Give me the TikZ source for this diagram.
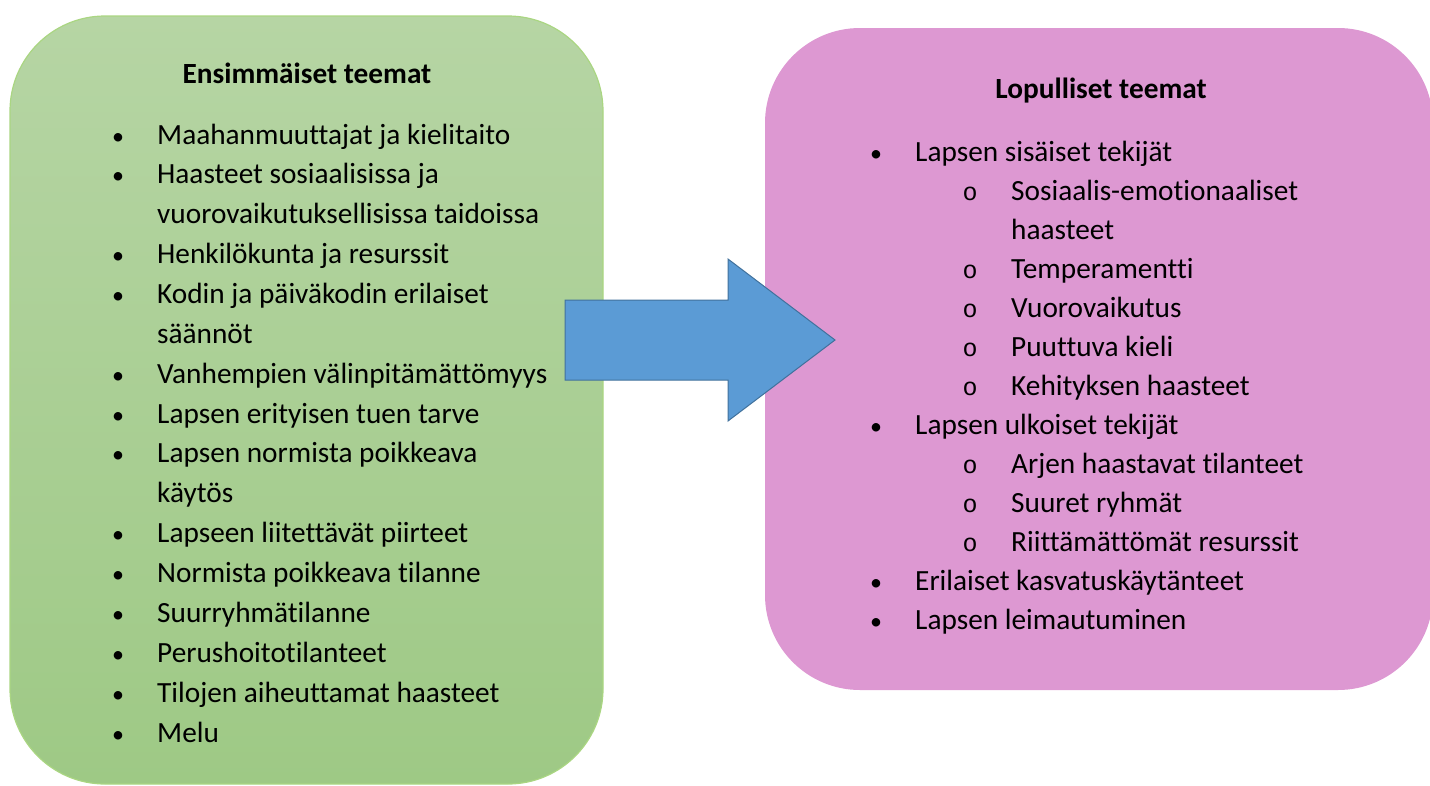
\documentclass[tikz,border=0pt]{standalone}
\usepackage{fontspec}
\setmainfont[RawFeature={-liga;-clig;-calt;-dlig}]{Carlito}
\newfontfamily\ringfont{Liberation Mono}
\usetikzlibrary{positioning}

\definecolor{leafgreen}{RGB}{182,213,164}
\definecolor{leafgreendark}{RGB}{158,201,133}
\definecolor{leafedge}{RGB}{170,214,130}
\definecolor{orchid}{RGB}{221,152,210}
\definecolor{arrowblue}{RGB}{91,155,213}
\definecolor{arrowedge}{RGB}{65,113,156}

\begin{document}
\begin{tikzpicture}[x=1pt, y=-1pt,
    box/.style={rectangle, rounded corners=95pt, inner sep=0},
    heading/.style={font=\fontsize{29.3}{34}\selectfont\bfseries, inner sep=0, anchor=base},
    item/.style={font=\fontsize{29.3}{34}\selectfont, inner sep=0, anchor=base west},
    dot/.style={font=\fontsize{24}{28}\selectfont, inner sep=0, anchor=base},
    ring/.style={font=\fontsize{25}{30}\ringfont, inner sep=0, anchor=base}]
    \useasboundingbox (0,0) rectangle (1430,785);

    % the two theme boxes
    \node[box, draw=leafedge, line width=1.2pt, top color=leafgreen, bottom color=leafgreendark,
        minimum width=593pt, minimum height=768pt] (first) at (306.5,400) {};
    \node[box, fill=orchid, minimum width=668pt, minimum height=662pt] (final) at (1099,359) {};

    % big arrow between them
    \draw[arrowedge, fill=arrowblue, line width=1pt]
        (565,300) -- (728,300) -- (728,259) -- (835,340) -- (728,421) -- (728,380) -- (565,380) -- cycle;

    \node[heading] (firsttitle) at (307,83) {Ensimmäiset teemat};
    \node[heading] (finaltitle) at (1101,98) {Lopulliset teemat};

    % left list
    \foreach \b/\t [count=\i from 0] in {1/Maahanmuuttajat ja kielitaito, 1/Haasteet sosiaalisissa ja,
        0/vuorovaikutuksellisissa taidoissa, 1/Henkilökunta ja resurssit, 1/Kodin ja päiväkodin erilaiset,
        0/säännöt, 1/Vanhempien välinpitämättömyys, 1/Lapsen erityisen tuen tarve,
        1/Lapsen normista poikkeava, 0/käytös, 1/Lapseen liitettävät piirteet,
        1/Normista poikkeava tilanne, 1/Suurryhmätilanne, 1/Perushoitotilanteet,
        1/Tilojen aiheuttamat haasteet, 1/Melu} {
      \node[item] (left\i) at (157,144+39.87*\i) {\t};
      \ifnum\b=1 \node[dot] (leftdot\i) at (118,144+39.87*\i) {•};\fi
    }

    % right list
    \foreach \b/\t [count=\i from 0] in {1/Lapsen sisäiset tekijät, 2/Sosiaalis-emotionaaliset,
        3/haasteet, 2/Temperamentti, 2/Vuorovaikutus, 2/Puuttuva kieli, 2/Kehityksen haasteet,
        1/Lapsen ulkoiset tekijät, 2/Arjen haastavat tilanteet, 2/Suuret ryhmät,
        2/Riittämättömät resurssit, 1/Erilaiset kasvatuskäytänteet, 1/Lapsen leimautuminen} {
      \ifnum\b=1
        \node[item] (right\i) at (915,161+39*\i) {\t};
        \node[dot] (rightdot\i) at (876,161+39*\i) {•};
      \else
        \node[item] (right\i) at (1011,161+39*\i) {\t};
        \ifnum\b=2 \node[ring] (rightring\i) at (970,161+39*\i) {o};\fi
      \fi
    }
\end{tikzpicture}
\end{document}
